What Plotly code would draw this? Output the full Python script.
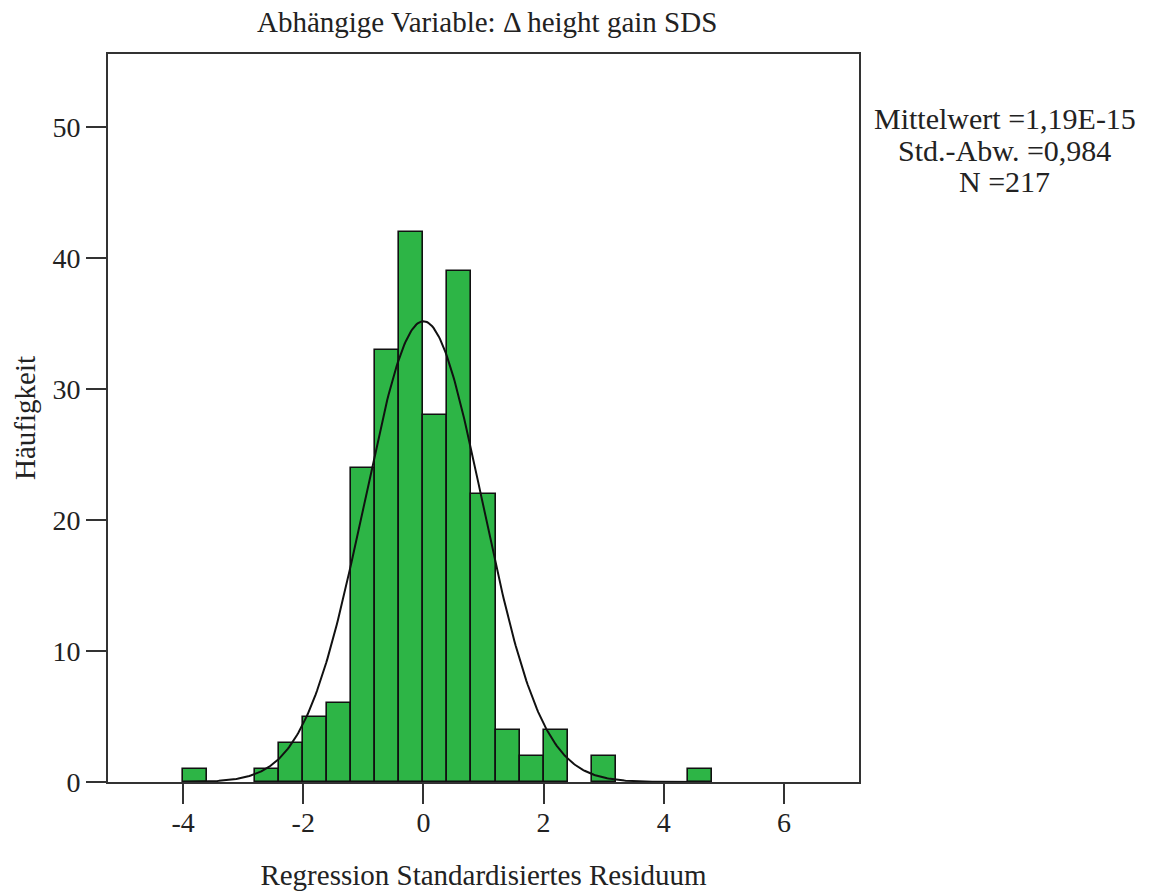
import numpy as np
import plotly.graph_objects as go

# Histogram of standardized regression residuals (bin width 0.4)
bin_centers = [-3.8, -3.4, -3.0, -2.6, -2.2, -1.8, -1.4, -1.0, -0.6, -0.2,
               0.2, 0.6, 1.0, 1.4, 1.8, 2.2, 2.6, 3.0, 3.4, 3.8, 4.2, 4.6]
counts = [1, 0, 0, 1, 3, 5, 6, 24, 33, 42,
          28, 39, 22, 4, 2, 4, 0, 2, 0, 0, 0, 1]
bin_width = 0.4

# Summary statistics shown beside the plot
mean_val = 1.19e-15
std_val = 0.984
n_val = 217
stats_lines = ["Mittelwert =1,19E-15", "Std.-Abw. =0,984", "N =217"]

x_ticks = [-4, -2, 0, 2, 4, 6]
x_tick_labels = ["-4", "-2", "0", "2", "4", "6"]
y_ticks = [0, 10, 20, 30, 40, 50]

FONT = "Liberation Serif"
GREEN = "#2db546"

W, H = 1149, 895
L, R, T, B = 108, 290, 54, 113

fig = go.Figure()

bx = [c for c, n in zip(bin_centers, counts) if n > 0]
by = [n for n in counts if n > 0]
fig.add_trace(go.Bar(
    x=bx, y=by, width=bin_width,
    marker=dict(color=GREEN, line=dict(color="#111111", width=1.6)),
    hoverinfo="x+y", showlegend=False,
))

# Normal curve scaled to counts: N * bin width * pdf
xs = np.linspace(-4.0, 4.8, 400)
ys = n_val * bin_width * np.exp(-0.5 * ((xs - mean_val) / std_val) ** 2) / (std_val * np.sqrt(2 * np.pi))
fig.add_trace(go.Scatter(
    x=xs, y=ys, mode="lines",
    line=dict(color="#111111", width=2), showlegend=False, hoverinfo="skip",
))

axis_common = dict(
    showline=True, linecolor="#333333", linewidth=2, mirror=True,
    ticks="outside", ticklen=20, tickwidth=2, tickcolor="#333333",
    showgrid=False, zeroline=False,
    tickfont=dict(family=FONT, size=28, color="#222222"),
)

fig.update_layout(
    width=W, height=H,
    margin=dict(l=L, r=R, t=T, b=B, autoexpand=False),
    paper_bgcolor="white", plot_bgcolor="white",
    font=dict(family=FONT, color="#222222"),
    bargap=0,
    xaxis=dict(range=[-5.25, 7.25], tickvals=x_ticks, ticktext=x_tick_labels,
               ticklabelstandoff=-6,
               title=dict(text="Regression Standardisiertes Residuum",
                          font=dict(family=FONT, size=29), standoff=28),
               **axis_common),
    yaxis=dict(range=[0, 55.6], tickvals=y_ticks,
               title=dict(text="Häufigkeit", font=dict(family=FONT, size=29), standoff=8),
               **axis_common),
)

fig.add_annotation(
    text="Abhängige Variable: Δ height gain SDS",
    xref="paper", yref="paper",
    x=(487 - L) / (W - L - R), y=1 + (T - 22) / (H - T - B),
    xanchor="center", yanchor="middle", showarrow=False,
    font=dict(family=FONT, size=29, color="#222222"),
)

line_y = [118, 150, 181]
for txt, py in zip(stats_lines, line_y):
    fig.add_annotation(
        text=txt, xref="paper", yref="paper",
        x=(1005 - L) / (W - L - R), y=1 - (py - T) / (H - T - B),
        xanchor="center", yanchor="middle", showarrow=False,
        font=dict(family=FONT, size=30, color="#222222"),
    )

fig.write_html("out.html")
